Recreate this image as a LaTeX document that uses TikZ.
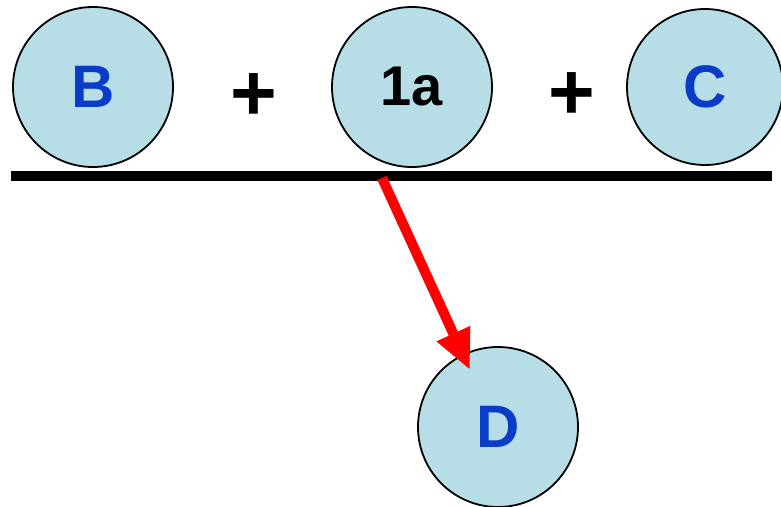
\documentclass[tikz,border=0pt]{standalone}
\usepackage{fontspec}
\setmainfont{Liberation Sans}
\usetikzlibrary{arrows.meta,calc}
\definecolor{ballfill}{RGB}{183,222,230}
\definecolor{txtblue}{RGB}{10,60,200}
\definecolor{arrred}{RGB}{255,0,0}
\tikzset{
  ball/.style={circle, draw=black, line width=1.8pt, fill=ballfill, minimum size=160pt, inner sep=0pt,
     font=\fontsize{60}{60}\selectfont\bfseries, text=txtblue},
  plus/.style={font=\fontsize{80}{80}\selectfont\bfseries, text=black, inner sep=0pt},
}
\begin{document}
\begin{tikzpicture}[x=1pt,y=-1pt]
\useasboundingbox (0,0) rectangle (781,506);
\node[ball] (B) at (93,87) {B};
\node[ball, text=black, font=\fontsize{56}{56}\selectfont\bfseries] (A) at (412,87) {1a};
\node[ball,minimum size=156pt] (C) at (705,87) {C};
\node[ball] (D) at (498,427) {D};
\node[plus] (p1) at (253.5,97) {+};
\node[plus] (p2) at (572,96) {+};
\coordinate (L) at (11,176);
\coordinate (R) at (772,176);
\coordinate (S) at (382,178);
\coordinate (T) at ($(D.center)+(-28,-57)$);
\draw[line width=10pt] (L) -- (R);
\draw[arrred, line width=10pt, -{Triangle[length=40pt,width=34pt]}] (S) -- (T);
\end{tikzpicture}
\end{document}
